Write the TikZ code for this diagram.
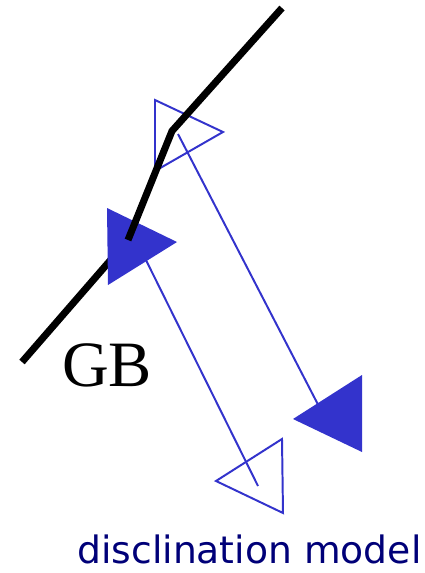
\documentclass[tikz,border=0pt]{standalone}
\usepackage{fontspec}
\newfontfamily\gbfont{Liberation Serif}
\newfontfamily\captionfont{DejaVu Sans}
\usepackage{tikz}
\usetikzlibrary{positioning}

\definecolor{wedgeblue}{RGB}{51,51,204}
\definecolor{captionnavy}{RGB}{0,0,120}

\begin{document}
\begin{tikzpicture}[x=0.025cm, y=-0.025cm,
  gbline/.style={line width=5pt},
  wedge/.style={draw=wedgeblue, line width=1.4pt, line join=miter},
  fullwedge/.style={fill=wedgeblue},
  link/.style={draw=wedgeblue, line width=1.4pt}]
  \useasboundingbox (0,0) rectangle (424,573);

  % ends of the links (hidden under the wedges)
  \coordinate (a1) at (178,134);
  \coordinate (b1) at (326,420);
  \coordinate (a2) at (139,246);
  \coordinate (b2) at (258,486);
  % grain boundary corners
  \coordinate (g0) at (22,362);
  \coordinate (g1) at (128,240);
  \coordinate (g2) at (172,131);
  \coordinate (g3) at (282,8);

  \path[link]
    (a1) edge (b1)
    (a2) edge (b2);

  % grain boundary, lower part (under the wedge)
  \draw[gbline] (g0) -- (g1);

  % wedges
  \fill[fullwedge] (107,208) -- (177,242) -- (108,285) -- cycle;
  \draw[wedge] (155,100) -- (223,132) -- (155,171) -- cycle;
  \fill[fullwedge] (362,375) -- (293,419) -- (362,452) -- cycle;
  \draw[wedge] (282,439) -- (216,481) -- (283,513) -- cycle;

  % grain boundary, upper part
  \draw[gbline] (g1) -- (g2) -- (g3);

  \node[anchor=base west, inner sep=0pt, font=\gbfont\fontsize{46}{46}\selectfont] (gb) at (62,386) {GB};
  \node[anchor=base west, inner sep=0pt, text=captionnavy,
        font=\captionfont\fontsize{26.8}{27}\selectfont] (caption) at (77,563) {disclination model};
\end{tikzpicture}
\end{document}
